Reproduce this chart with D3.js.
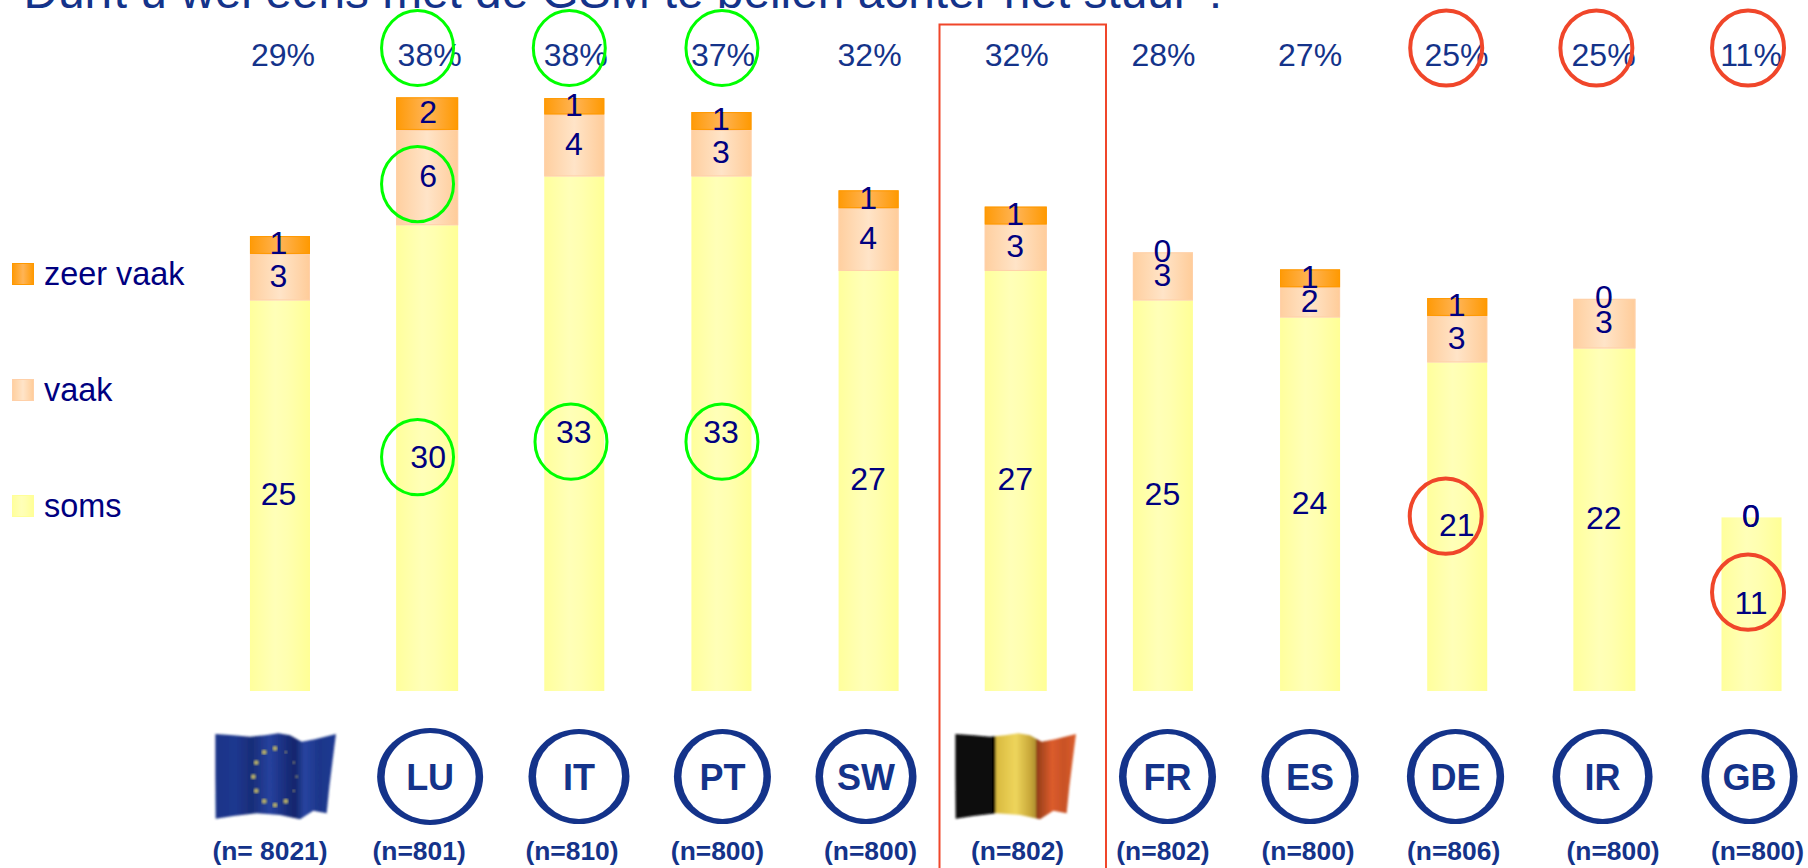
<!DOCTYPE html>
<html>
<head>
<meta charset="utf-8">
<script src="https://cdn.jsdelivr.net/npm/d3@7"></script>
<style>
html,body{margin:0;padding:0;background:#fff;overflow:hidden}
svg{display:block}
text{font-family:"Liberation Sans",Arial,sans-serif}
</style>
</head>
<body>
<svg id="chart" width="1808" height="868"></svg>
<script>
// ---------- data ----------
const titleText = "Durft u wel eens met de GSM te bellen achter het stuur ?";
const categories = ["EU","LU","IT","PT","SW","BE","FR","ES","DE","IR","GB"];
const sampleLabels = ["(n= 8021)","(n=801)","(n=810)","(n=800)","(n=800)","(n=802)","(n=802)","(n=800)","(n=806)","(n=800)","(n=800)"];
const totalLabels = ["29%","38%","38%","37%","32%","32%","28%","27%","25%","25%","11%"];
const somsValues = [25.2,30.05,33.2,33.2,27.1,27.1,25.2,24.1,21.2,22.1,11.2];
const vaakValues = [3.0,6.15,4.0,3.0,4.05,3.0,3.1,1.95,3.0,3.2,0];
const zeerValues = [1.15,2.1,1.05,1.15,1.15,1.15,0,1.15,1.15,0,0];
const somsLabels = [25,30,33,33,27,27,25,24,21,22,11];
const vaakLabels = [3,6,4,3,4,3,3,2,3,3,0];
const zeerLabels = [1,2,1,1,1,1,0,1,1,0,0];
const seriesNames = ["zeer vaak","vaak","soms"];

// ---------- layout ----------
const svg = d3.select("#chart");
const x = d3.scaleBand().domain(categories).range([206.4,1825.1]).paddingInner(0.592).paddingOuter(0.296);
const y = d3.scaleLinear().domain([0,40]).range([691,71]);
const cx = c => x(c)+x.bandwidth()/2;
const navy = "#000080", blue = "#14338a", green = "#00ff00", red = "#f0462a";
const rows = categories.map((c,i)=>({c,i,soms:somsValues[i],vaak:vaakValues[i],zeer:zeerValues[i]}));
const stack = d3.stack().keys(["soms","vaak","zeer"])(rows);
const labelArrays = {soms:somsLabels,vaak:vaakLabels,zeer:zeerLabels};
const barGrow = {LU:1,BE:1,IR:1};
const grow = c => barGrow[c]||0;

// ---------- gradients ----------
const defs = svg.append("defs");
function grad(id,stops){
  const g = defs.append("linearGradient").attr("id",id).attr("x1",0).attr("x2",1).attr("y1",0).attr("y2",0);
  stops.forEach(s=>g.append("stop").attr("offset",s[0]).attr("stop-color",s[1]));
}
grad("g-soms",[[0,"#ffff9c"],[.42,"#ffffb8"],[.62,"#ffffb0"],[1,"#ffff96"]]);
grad("g-vaak",[[0,"#ffcf9f"],[.5,"#ffe4c8"],[1,"#ffcc99"]]);
grad("g-zeer",[[0,"#ff9a06"],[.5,"#ffb456"],[1,"#ff9900"]]);
grad("g-eu",[[0,"#1b3488"],[.17,"#1f388f"],[.3,"#182c78"],[.45,"#26429e"],[.58,"#1a2e7e"],[.66,"#13266c"],[.74,"#2744a0"],[.86,"#1d368a"],[1,"#203a92"]]);
grad("g-be",[[0,"#0c0c0c"],[.33,"#060606"],[.335,"#d8b93e"],[.5,"#eed55c"],[.62,"#c9a83a"],[.665,"#b09030"],[.67,"#903c18"],[.8,"#dc5c2c"],[.9,"#c85226"],[1,"#dc5e2c"]]);
defs.append("filter").attr("id","soft").attr("x","-5%").attr("y","-5%").attr("width","110%").attr("height","110%")
  .append("feGaussianBlur").attr("stdDeviation",0.8);

const fillFor = {soms:"url(#g-soms)",vaak:"url(#g-vaak)",zeer:"url(#g-zeer)"};
const edgeFor = {soms:"#ffff99",vaak:"#ffd0a8",zeer:"#ff9900"};

// ---------- title (cut off by the top edge, as in the reference) ----------
svg.append("text").attr("x",23.5).attr("y",7.5).attr("font-size",47.8).attr("fill",blue).text(titleText);

// ---------- Belgium frame ----------
svg.append("path").attr("d","M939.5,868V24.5H1106V868").attr("fill","none").attr("stroke",red).attr("stroke-width",2);

// ---------- bars ----------
stack.forEach(layer=>{
  svg.append("g").selectAll("rect").data(layer.filter(d=>d[1]-d[0]>0)).join("rect")
    .attr("x",d=>x(d.data.c)-grow(d.data.c)).attr("width",d=>x.bandwidth()+2*grow(d.data.c))
    .attr("y",d=>y(d[1])).attr("height",d=>y(d[0])-y(d[1]))
    .attr("fill",fillFor[layer.key]);
  svg.append("g").selectAll("rect").data(layer.key==="soms"?[]:layer.filter(d=>d[1]-d[0]>0)).join("rect")
    .attr("x",d=>x(d.data.c)-grow(d.data.c)+.5).attr("width",d=>x.bandwidth()+2*grow(d.data.c)-1)
    .attr("y",d=>y(d[1])+.5).attr("height",d=>y(d[0])-y(d[1])-1)
    .attr("fill","none").attr("stroke",edgeFor[layer.key]).attr("stroke-width",1);
});

// ---------- bar value labels ----------
stack.forEach(layer=>{
  svg.append("g").selectAll("text").data(layer).join("text")
    .attr("x",d=>cx(d.data.c)-(d.data.c==="EU"?1.5:d.data.c==="LU"?-1:0.5)).attr("y",d=>(y(d[0])+y(d[1]))/2+9.5)
    .attr("text-anchor","middle").attr("font-size",32).attr("fill",navy)
    .text(d=>labelArrays[layer.key][d.data.i]);
});

// ---------- total labels ----------
const totalDx = [3,2.5,1.5,1.5,1,1,.6,0,-.7,-.8,-.5];
svg.append("g").selectAll("text").data(rows).join("text")
  .attr("x",(d,i)=>cx(d.c)+totalDx[i]).attr("y",66).attr("text-anchor","middle")
  .attr("font-size",32).attr("fill",blue).text((d,i)=>totalLabels[i]);

// ---------- highlight ellipses ----------
const totalRings = [["LU",-9.6,green],["IT",-5,green],["PT",.5,green],["DE",-11,red],["IR",-8,red],["GB",-3.5,red]];
const segmentRings = [["LU","vaak",-9.6,6.5,green],["LU","soms",-9.6,-1,green],["IT","soms",-3.3,8,green],["PT","soms",.5,8,green],["DE","soms",-11.5,-10.5,red],["GB","soms",-3.5,-12,red]];
const ring = (sel,color)=>sel.attr("rx",36).attr("ry",37.6).attr("fill","none").attr("stroke",color)
   .attr("stroke-width",color===red?4:3);
totalRings.forEach(r=>{
  svg.append("ellipse").attr("cx",cx(r[0])+r[1]).attr("cy",48).call(ring,r[2]);
});
segmentRings.forEach(r=>{
  const layer = stack.find(l=>l.key===r[1]);
  const d = layer[categories.indexOf(r[0])];
  svg.append("ellipse").attr("cx",cx(r[0])+r[2]).attr("cy",(y(d[0])+y(d[1]))/2+r[3]).call(ring,r[4]);
});

// ---------- legend ----------
const legendY = d3.scalePoint().domain(seriesNames).range([285,517]);
const legendKey = {"zeer vaak":"zeer","vaak":"vaak","soms":"soms"};
const lg = svg.append("g").selectAll("g").data(seriesNames).join("g");
lg.append("rect").attr("x",12.5).attr("y",d=>legendY(d)-21.5).attr("width",21).attr("height",21)
  .attr("fill",d=>fillFor[legendKey[d]]).attr("stroke",d=>edgeFor[legendKey[d]]);
lg.append("text").attr("x",44).attr("y",d=>legendY(d)).attr("font-size",32.4).attr("fill",navy).text(d=>d);

// ---------- country badges: ring is thicker at the sides than top and bottom ----------
const badgeDx = {LU:3,IT:4.7,PT:1,SW:-2.6,FR:4.6,ES:0,DE:-1.7,IR:-1.8,GB:-2};
const badgeRx = {LU:53,IT:50.5,PT:48.5,SW:50.5,FR:48.5,ES:48.6,DE:48.6,IR:50,GB:48};
const badges = categories.filter(c=>c in badgeDx);
const bg = svg.append("g").selectAll("g").data(badges).join("g");
bg.append("ellipse").attr("cx",c=>cx(c)+badgeDx[c]).attr("cy",776.5)
  .attr("rx",c=>badgeRx[c]).attr("ry",c=>c==="LU"?48.5:47.5).attr("fill",blue);
bg.append("ellipse").attr("cx",c=>cx(c)+badgeDx[c]).attr("cy",776.5)
  .attr("rx",c=>badgeRx[c]-7.5).attr("ry",c=>(c==="LU"?48.5:47.5)-5).attr("fill","#fff");
bg.append("text").attr("x",c=>cx(c)+badgeDx[c]).attr("y",789.5).attr("text-anchor","middle")
  .attr("font-size",36).attr("font-weight","bold").attr("fill",blue).text(c=>c);

// ---------- waving flags ----------
const flagOutline = [[46,42],[100,46],[150,50],[195,46],[235,40],[270,46],[305,65],[345,58],[408,42],[398,120],[388,200],[380,280],[340,272],[300,298],[240,285],[170,280],[100,288],[47,296],[46,170]];
const flagPath = d3.line().x(d=>d[0]/3).y(d=>d[1]/3).curve(d3.curveLinearClosed);
function drawFlag(left,gradId){
  const g = svg.append("g").attr("transform",`translate(${left},720)`);
  g.append("path").attr("d",flagPath(flagOutline)).attr("fill",`url(#${gradId})`).attr("filter","url(#soft)");
  return g;
}
const euFlag = drawFlag(200,"g-eu");
drawFlag(940,"g-be");
const starAngles = d3.range(12).map(i=>i*30);
euFlag.selectAll("circle").data(starAngles).join("circle")
  .attr("cx",a=>(225+65*Math.sin(a*Math.PI/180))/3)
  .attr("cy",a=>(170-85*Math.cos(a*Math.PI/180))/3)
  .attr("r",a=>(a>0&&a<150)?1.6:2.6)
  .attr("fill","#b9b168").attr("opacity",a=>(a>0&&a<150)?.55:.95).attr("filter","url(#soft)");

// ---------- sample sizes ----------
const sampleDx = [-10,-8,-2.3,-4,2,1.8,0,-2,-3.6,8.7,6];
svg.append("g").selectAll("text").data(categories).join("text")
  .attr("x",(c,i)=>cx(c)+sampleDx[i]).attr("y",859.5).attr("text-anchor","middle")
  .attr("font-size",26.4).attr("font-weight","bold").attr("fill",blue).text((c,i)=>sampleLabels[i]);
</script>
</body>
</html>
